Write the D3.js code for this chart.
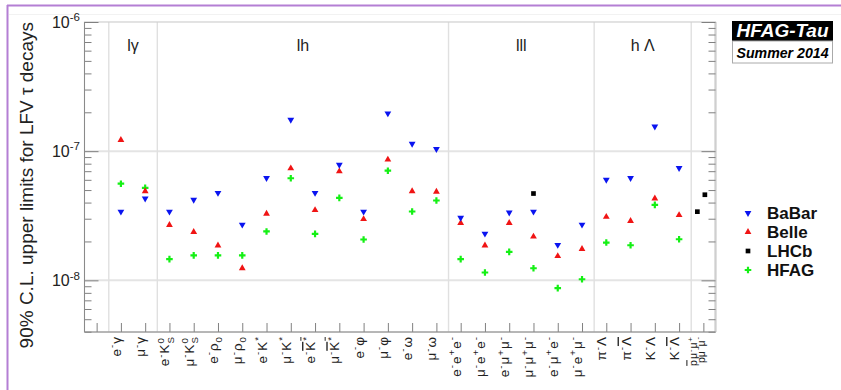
<!DOCTYPE html>
<html>
<head>
<meta charset="utf-8">
<script src="https://cdn.jsdelivr.net/npm/d3@7"></script>
<style>
  body { margin: 0; background: #fff; }
  text { font-family: "Liberation Sans", Arial, Helvetica, sans-serif; }
</style>
</head>
<body>
<svg id="chart" width="841" height="390"></svg>
<script>
// Decay modes (ROOT-like markup: ^{} superscript, _{} subscript, #bar{} overline, | splits one slot into two labels)
const categories = [
  "",
  "e^{-}γ", "μ^{-}γ",
  "e^{-}K^{0}_{S}", "μ^{-}K^{0}_{S}", "e^{-}ρ_{0}", "μ^{-}ρ_{0}",
  "e^{-}K^{*}", "μ^{-}K^{*}", "e^{-}#bar{K^{*}}", "μ^{-}#bar{K^{*}}",
  "e^{-}φ", "μ^{-}φ", "e^{-}ω", "μ^{-}ω",
  "e^{-}e^{+}e^{-}", "μ^{-}e^{+}e^{-}", "e^{-}μ^{+}μ^{-}", "μ^{-}μ^{+}μ^{-}",
  "e^{-}μ^{+}e^{-}", "μ^{-}e^{+}μ^{-}",
  "π^{-}Λ", "π^{-}#bar{Λ}", "K^{-}Λ", "K^{-}#bar{Λ}",
  "#bar{p}μ^{-}μ^{+}|pμ^{-}μ^{-}"
];

// 90% C.L. upper limits, one entry per category (null = no measurement)
const babar = [null,
  3.4e-8, 4.3e-8,
  3.4e-8, 4.2e-8, 4.75e-8, 2.7e-8,
  6.2e-8, 1.75e-7, 4.75e-8, 7.85e-8,
  3.4e-8, 1.96e-7, 1.14e-7, 1.04e-7,
  3.05e-8, 2.3e-8, 3.35e-8, 3.4e-8, 1.88e-8, 2.7e-8,
  6.0e-8, 6.2e-8, 1.55e-7, 7.4e-8,
  null];
const belle = [null,
  1.22e-7, 4.9e-8,
  2.68e-8, 2.37e-8, 1.86e-8, 1.24e-8,
  3.28e-8, 7.36e-8, 3.5e-8, 6.98e-8,
  2.98e-8, 8.6e-8, 4.9e-8, 4.85e-8,
  2.78e-8, 1.86e-8, 2.78e-8, 2.18e-8, 1.54e-8, 1.75e-8,
  3.1e-8, 2.88e-8, 4.3e-8, 3.2e-8,
  null];
const hfag = [null,
  5.6e-8, 5.2e-8,
  1.46e-8, 1.56e-8, 1.56e-8, 1.56e-8,
  2.39e-8, 6.17e-8, 2.29e-8, 4.35e-8,
  2.07e-8, 7.06e-8, 3.41e-8, 4.15e-8,
  1.46e-8, 1.15e-8, 1.66e-8, 1.24e-8, 8.7e-9, 1.02e-8,
  1.96e-8, 1.87e-8, 3.84e-8, 2.08e-8,
  null];
// LHCb: category index, label line within the slot, limit
const lhcbCategory = [18, 25, 25];
const lhcbLine = [0, 0, 1];
const lhcbValues = [4.7e-8, 3.4e-8, 4.6e-8];

// Mode groups and their boundaries
const groupNames = ["lγ", "lh", "lll", "h Λ"];
const groupEdges = [0.5, 2.5, 14.5, 20.5, 24.5];

const yMajor = [1e-6, 1e-7, 1e-8];
const yMajorLabels = ["10^{-6}", "10^{-7}", "10^{-8}"];

const legendNames = ["BaBar", "Belle", "LHCb", "HFAG"];
const seriesColors = { BaBar: "#0a14f0", Belle: "#f01414", LHCb: "#000000", HFAG: "#14f014" };

// ---------- layout ----------
const svg = d3.select("#chart");
const L = 84.5, R = 715.5, T = 22, B = 332;

const x = d3.scaleLinear().domain([-0.5, 25.5]).range([L, R]);
const y = d3.scaleLog().domain([Math.pow(10, -8.4), 1e-6]).range([B, T]);

// offsets of the two labels sharing the last slot
const lineOffsets = [-6, 1.5];
function slotX(cat, line) {
  const parts = categories[cat].split("|");
  return x(cat) + (parts.length > 1 ? lineOffsets[line] : 0);
}

// ---------- rich text ----------
function matchBrace(s, open) {
  let depth = 0;
  for (let k = open; k < s.length; k++) {
    if (s[k] === "{") depth++;
    else if (s[k] === "}") { depth--; if (depth === 0) return k; }
  }
  return s.length - 1;
}
function parseRich(s, bar = false, out = []) {
  let i = 0, buf = "";
  const flush = () => { if (buf) { out.push({ t: buf, lvl: 0, bar }); buf = ""; } };
  while (i < s.length) {
    if (s.startsWith("#bar{", i)) {
      flush();
      const j = matchBrace(s, i + 4);
      parseRich(s.slice(i + 5, j), true, out);
      i = j + 1;
    } else if ((s[i] === "^" || s[i] === "_") && s[i + 1] === "{") {
      flush();
      const j = matchBrace(s, i + 1);
      out.push({ t: s.slice(i + 2, j), lvl: s[i] === "^" ? 1 : -1, bar });
      i = j + 1;
    } else { buf += s[i]; i++; }
  }
  flush();
  return out;
}
function richText(sel, s, fs, gap = 0) {
  const segs = parseRich(s);
  let cur = 0, prev = null;
  segs.forEach(sg => {
    const size = sg.lvl ? fs * 0.72 : fs;
    const target = sg.lvl === 1 ? -0.42 * fs : sg.lvl === -1 ? 0.3 * fs : 0;
    const ts = sel.append("tspan")
      .attr("dy", (target - cur).toFixed(2))
      .attr("font-size", size)
      .text(sg.t);
    if (sg.bar) ts.style("text-decoration", "overline");
    if (sg.lvl === -1 && prev && prev.lvl === 1) ts.attr("dx", -(prev.t.length * 0.56 * size).toFixed(2));
    else if (prev && gap) ts.attr("dx", gap);
    cur = target; prev = sg;
  });
}

// ---------- page frame ----------
svg.append("line").attr("x1", 7).attr("x2", 841).attr("y1", 5.5).attr("y2", 5.5)
  .attr("stroke", "#b47fd4").attr("stroke-width", 2);
svg.append("line").attr("x1", 7.5).attr("x2", 7.5).attr("y1", 5).attr("y2", 390)
  .attr("stroke", "#b47fd4").attr("stroke-width", 2);
svg.append("line").attr("x1", 9).attr("x2", 841).attr("y1", 14.5).attr("y2", 14.5)
  .attr("stroke", "#f2f2f2").attr("stroke-width", 1);

// ---------- grid ----------
const grid = svg.append("g");
grid.selectAll("line.h").data([1e-7, 1e-8]).join("line")
  .attr("x1", L).attr("x2", R).attr("y1", d => y(d)).attr("y2", d => y(d))
  .attr("stroke", "#e4e4e4").attr("stroke-width", 2);
grid.selectAll("line.v").data(groupEdges).join("line")
  .attr("x1", d => x(d)).attr("x2", d => x(d)).attr("y1", T).attr("y2", B)
  .attr("stroke", "#e0e0e0").attr("stroke-width", 1.4);

// plot frame
svg.append("rect").attr("x", L).attr("y", T).attr("width", R - L).attr("height", B - T)
  .attr("fill", "none").attr("stroke", "#d0d0d0").attr("stroke-width", 1.2);
svg.append("line").attr("x1", R).attr("x2", R).attr("y1", T).attr("y2", B)
  .attr("stroke", "#cfcfcf").attr("stroke-width", 2.2);

// ---------- axes ----------
const minorTicks = [];
[-9, -8, -7].forEach(e => {
  for (let k = 2; k <= 9; k++) {
    const v = k * Math.pow(10, e);
    if (v >= y.domain()[0] && v < 1e-6) minorTicks.push(v);
  }
});
function styleAxis(g) {
  g.selectAll("line").attr("stroke", "#808080");
  g.select(".domain").remove();
}
svg.append("g").attr("transform", `translate(${L},0)`)
  .call(d3.axisLeft(y).tickValues(minorTicks).tickSize(-7).tickFormat("")).call(styleAxis);
svg.append("g").attr("transform", `translate(${L},0)`)
  .call(d3.axisLeft(y).tickValues(yMajor).tickSize(-14).tickFormat("")).call(styleAxis);
svg.append("g").attr("transform", `translate(${R},0)`)
  .call(d3.axisRight(y).tickValues(minorTicks).tickSize(-7).tickFormat("")).call(styleAxis);
svg.append("g").attr("transform", `translate(${R},0)`)
  .call(d3.axisRight(y).tickValues(yMajor).tickSize(-14).tickFormat("")).call(styleAxis);
svg.append("g").attr("transform", `translate(0,${B})`)
  .call(d3.axisBottom(x).tickValues(d3.range(categories.length)).tickSize(-9).tickFormat("")).call(styleAxis);

// axis lines
svg.append("line").attr("x1", L).attr("x2", L).attr("y1", T).attr("y2", B).attr("stroke", "#8a8a8a");
svg.append("line").attr("x1", L).attr("x2", R).attr("y1", B).attr("y2", B).attr("stroke", "#8a8a8a");

// y tick labels
yMajor.forEach((v, i) => {
  const t = svg.append("text").attr("x", 80).attr("y", y(v) + 6)
    .attr("text-anchor", "end").attr("fill", "#222");
  richText(t, yMajorLabels[i], 16);
});

// y title
svg.append("text")
  .attr("transform", `translate(33,${T}) rotate(-90)`)
  .attr("text-anchor", "end").attr("font-size", 19).attr("fill", "#222")
  .text("90% C.L. upper limits for LFV τ decays");

// category labels (a shared slot gets two narrower lines)
categories.forEach((c, i) => {
  if (!c) return;
  const parts = c.split("|");
  const fs = parts.length > 1 ? 10.5 : 13.5;
  parts.forEach((part, j) => {
    const t = svg.append("text")
      .attr("transform", `translate(${slotX(i, j)},337) rotate(-90)`)
      .attr("text-anchor", "end").attr("dy", "0.35em").attr("fill", "#222");
    richText(t, part, fs, 1);
  });
});

// group names
groupNames.forEach((g, i) => {
  svg.append("text")
    .attr("x", x((groupEdges[i] + groupEdges[i + 1]) / 2)).attr("y", 51)
    .attr("text-anchor", "middle").attr("font-size", 16).attr("fill", "#222")
    .text(g);
});

// ---------- markers ----------
const symDown = d3.symbol().type(d3.symbolTriangle).size(20);
const symUp = d3.symbol().type(d3.symbolTriangle).size(20);
const symSquare = d3.symbol().type(d3.symbolSquare).size(22);
const symCross = d3.symbol().type(d3.symbolCross).size(24);

function drawSeries(values, name, sym, rot) {
  svg.append("g").selectAll("path")
    .data(values.map((v, i) => ({ v, i })).filter(d => d.v != null))
    .join("path")
    .attr("d", sym)
    .attr("transform", d => `translate(${x(d.i)},${y(d.v)})` + (rot ? ` rotate(${rot})` : ""))
    .attr("fill", seriesColors[name]);
}
drawSeries(hfag, "HFAG", symCross, 0);
drawSeries(belle, "Belle", symUp, 0);
drawSeries(babar, "BaBar", symDown, 180);

svg.append("g").selectAll("path")
  .data(lhcbValues.map((v, k) => ({ v, c: lhcbCategory[k], l: lhcbLine[k] })))
  .join("path")
  .attr("d", symSquare)
  .attr("transform", d => `translate(${slotX(d.c, d.l)},${y(d.v)})`)
  .attr("fill", seriesColors.LHCb);

// ---------- legend ----------
const legendSyms = { BaBar: [symDown, 180], Belle: [symUp, 0], LHCb: [symSquare, 0], HFAG: [symCross, 0] };
const legend = svg.append("g");
legendNames.forEach((n, i) => {
  const ly = 213 + i * 19;
  legend.append("path").attr("d", legendSyms[n][0])
    .attr("transform", `translate(748,${ly})` + (legendSyms[n][1] ? ` rotate(${legendSyms[n][1]})` : ""))
    .attr("fill", seriesColors[n]);
  legend.append("text").attr("x", 767).attr("y", ly).attr("dy", "0.36em")
    .attr("font-size", 17).attr("font-weight", "bold").attr("fill", "#111").text(n);
});

// ---------- stamp ----------
const stamp = svg.append("g");
stamp.append("rect").attr("x", 732).attr("y", 21).attr("width", 101).attr("height", 20).attr("fill", "#000");
stamp.append("rect").attr("x", 732.5).attr("y", 41).attr("width", 100).attr("height", 22)
  .attr("fill", "#fff").attr("stroke", "#aaa").attr("stroke-width", 1);
stamp.append("text").attr("x", 782.5).attr("y", 37).attr("text-anchor", "middle")
  .attr("font-size", 18).attr("font-weight", "bold").attr("font-style", "italic")
  .attr("fill", "#fff").attr("textLength", 92).attr("lengthAdjust", "spacingAndGlyphs").text("HFAG-Tau");
stamp.append("text").attr("x", 782.5).attr("y", 57.5).attr("text-anchor", "middle")
  .attr("font-size", 15).attr("font-weight", "bold").attr("font-style", "italic")
  .attr("fill", "#000").attr("textLength", 92).attr("lengthAdjust", "spacingAndGlyphs").text("Summer 2014");
</script>
</body>
</html>
